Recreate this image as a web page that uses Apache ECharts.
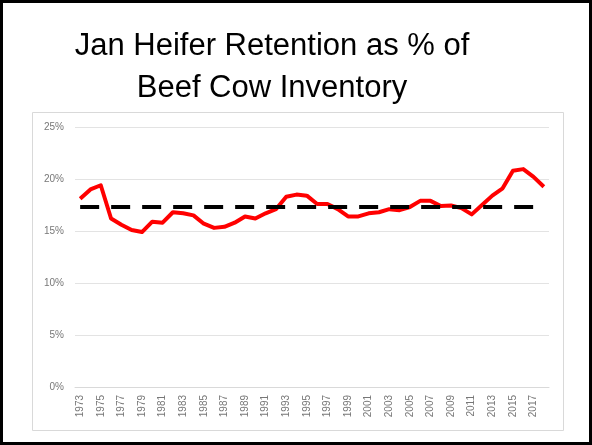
<!DOCTYPE html>
<html>
<head>
<meta charset="utf-8">
<script src="https://cdn.jsdelivr.net/npm/echarts@6/dist/echarts.min.js"></script>
<style>
  html, body { margin: 0; padding: 0; background: #fff; }
  #chart { width: 592px; height: 445px; }
</style>
</head>
<body>
<div id="chart"></div>
<script>
// years 1973 - 2018
const years = [];
for (let y = 1973; y <= 2018; y++) years.push(String(y));

// heifer retention, % of beef cow inventory
const retention = [
  18.1, 19.0, 19.4, 16.2, 15.6, 15.1, 14.9, 15.9, 15.8, 16.8,
  16.7, 16.5, 15.7, 15.3, 15.4, 15.8, 16.4, 16.2, 16.7, 17.1,
  18.3, 18.5, 18.4, 17.6, 17.6, 17.1, 16.4, 16.4, 16.7, 16.8,
  17.1, 17.0, 17.3, 17.9, 17.9, 17.4, 17.45, 17.2, 16.6, 17.5,
  18.4, 19.1, 20.8, 20.95, 20.2, 19.25
];
const average = 17.3;
const averageLine = years.map(() => average);

const yTicks = [0, 5, 10, 15, 20, 25];

const chart = echarts.init(document.getElementById('chart'));

chart.setOption({
  animation: false,
  backgroundColor: '#fff',
  title: {
    text: 'Jan Heifer Retention as % of\nBeef Cow Inventory',
    left: 267,
    textAlign: 'center',
    top: 20,
    textStyle: {
      fontFamily: 'Liberation Sans',
      fontSize: 31,
      fontWeight: 'normal',
      color: '#000',
      lineHeight: 42
    }
  },
  graphic: [
    // outer black frame
    {
      type: 'rect',
      shape: { x: 1.5, y: 1.5, width: 589, height: 442 },
      style: { fill: 'none', stroke: '#000', lineWidth: 3 },
      silent: true
    },
    // inner chart box
    {
      type: 'rect',
      shape: { x: 32.5, y: 112.5, width: 531, height: 318 },
      style: { fill: 'none', stroke: '#d9d9d9', lineWidth: 1 },
      silent: true
    }
  ],
  grid: { left: 75, right: 43, top: 127, bottom: 58 },
  xAxis: {
    type: 'category',
    data: years,
    boundaryGap: true,
    axisLine: { show: true, lineStyle: { color: '#d9d9d9' } },
    axisTick: { show: false },
    axisLabel: {
      rotate: 90,
      interval: 1,
      margin: 8,
      fontFamily: 'Liberation Sans',
      fontSize: 10,
      color: '#777'
    }
  },
  yAxis: {
    type: 'value',
    min: yTicks[0],
    max: yTicks[yTicks.length - 1],
    interval: 5,
    axisLine: { show: false },
    axisTick: { show: false },
    splitLine: { lineStyle: { color: '#e3e3e3' } },
    axisLabel: {
      formatter: '{value}%',
      margin: 11,
      fontFamily: 'Liberation Sans',
      fontSize: 10,
      color: '#777'
    }
  },
  series: [
    {
      name: 'Retention',
      type: 'line',
      data: retention,
      symbol: 'none',
      z: 3,
      lineStyle: { color: '#f00', width: 4, join: 'round' }
    },
    {
      name: 'Average',
      type: 'line',
      data: averageLine,
      symbol: 'none',
      z: 4,
      lineStyle: { color: '#000', width: 4, type: [19, 12] }
    }
  ]
});
</script>
</body>
</html>
